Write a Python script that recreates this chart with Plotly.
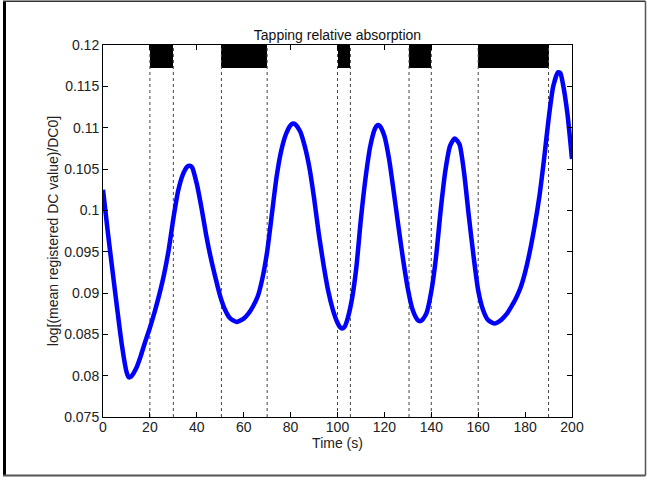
import plotly.graph_objects as go

# ---- data ----
time_s = [0, 2, 4, 6, 8, 10, 11, 12, 14, 16, 18, 20, 22, 24, 26, 28, 30, 32, 34, 36, 37, 38,
          40, 42, 44, 46, 48, 50, 52, 54, 56, 57, 58, 60, 62, 64, 66, 68, 70, 72, 74, 76, 78,
          80, 81, 82, 84, 86, 88, 90, 92, 94, 96, 98, 100, 101, 102, 103, 104, 106, 108, 110,
          112, 114, 116, 117, 118, 120, 122, 124, 126, 128, 130, 132, 134, 135, 136, 138, 140,
          142, 144, 146, 148, 150, 152, 154, 156, 158, 160, 162, 164, 166, 167, 168, 170, 172,
          174, 176, 178, 180, 182, 184, 186, 188, 190, 192, 194, 195, 196, 198, 200]
absorption = [0.1025, 0.0975, 0.0928, 0.0882, 0.0838, 0.0805, 0.0798, 0.0799, 0.0808, 0.0823,
              0.0841, 0.0858, 0.0877, 0.0898, 0.0922, 0.0952, 0.0990, 0.1023, 0.1043, 0.1053,
              0.1054, 0.1052, 0.1032, 0.1003, 0.0970, 0.0942, 0.0918, 0.0896, 0.0880, 0.0870,
              0.0866, 0.0865, 0.0866, 0.0869, 0.0875, 0.0884, 0.0896, 0.0918, 0.0950, 0.0995,
              0.1040, 0.1072, 0.1092, 0.1103, 0.1105, 0.1104, 0.1096, 0.1078, 0.1052, 0.1015,
              0.0972, 0.0935, 0.0903, 0.0880, 0.0864, 0.0859, 0.0857, 0.0859, 0.0866, 0.0890,
              0.0930, 0.0990, 0.1040, 0.1078, 0.1099, 0.1103, 0.1102, 0.1090, 0.1062, 0.1022,
              0.0980, 0.0940, 0.0905, 0.0880, 0.0868, 0.0866, 0.0867, 0.0876, 0.0902, 0.0943,
              0.1000, 0.1048, 0.1078, 0.1087, 0.1080, 0.1045, 0.0993, 0.0945, 0.0903, 0.0880,
              0.0868, 0.0864, 0.0863, 0.0864, 0.0868, 0.0874, 0.0883, 0.0893, 0.0906, 0.0925,
              0.0950, 0.0980, 0.1015, 0.1060, 0.1110, 0.1150, 0.1167, 0.1166, 0.1155, 0.1118,
              0.1062]

tap_start = [20, 50.5, 100, 130.5, 160]
tap_end = [30, 70, 105.5, 140, 190]
bar_low = 0.1172
bar_high = 0.12

x_ticks = [0, 20, 40, 60, 80, 100, 120, 140, 160, 180, 200]
y_ticks = [0.075, 0.08, 0.085, 0.09, 0.095, 0.1, 0.105, 0.11, 0.115, 0.12]
y_tick_text = ["0.075", "0.08", "0.085", "0.09", "0.095", "0.1", "0.105", "0.11", "0.115", "0.12"]

FONT = "Liberation Sans, Arial, Helvetica, sans-serif"

L, R, T, B = 103, 75, 45, 60
W, H = 647, 477
PW, PH = W - L - R, H - T - B


def px(xpix):
    return (xpix - L) / PW


def py(ypix):
    return (H - B - ypix) / PH


fig = go.Figure()

# dotted boundaries of tapping intervals
vx, vy = [], []
for b in tap_start + tap_end:
    vx += [b, b, None]
    vy += [y_ticks[0], y_ticks[-1], None]
fig.add_trace(go.Scatter(x=vx, y=vy, mode="lines",
                         line=dict(color="#444", width=1, dash="dot"),
                         hoverinfo="skip", showlegend=False))

# black tapping bars at the top
fig.add_trace(go.Bar(
    x=[(s + e) / 2 for s, e in zip(tap_start, tap_end)],
    width=[e - s for s, e in zip(tap_start, tap_end)],
    y=[bar_high - bar_low] * len(tap_start),
    base=[bar_low] * len(tap_start),
    marker=dict(color="black", line=dict(width=0)),
    showlegend=False, hoverinfo="skip"))

# the absorption curve
fig.add_trace(go.Scatter(x=time_s, y=absorption, mode="lines",
                         line=dict(color="#0000ff", width=4.5, shape="spline", smoothing=0.6),
                         showlegend=False))

axis_common = dict(showgrid=False, zeroline=False, ticks="inside", ticklen=5,
                   tickcolor="black", showline=True, linecolor="black", linewidth=1,
                   mirror="allticks", tickfont=dict(family=FONT, size=14, color="#222"))

fig.update_layout(
    width=W, height=H,
    margin=dict(l=L, r=R, t=T, b=B),
    paper_bgcolor="white", plot_bgcolor="white",
    font=dict(family=FONT, size=14, color="#222"),
    title=dict(text="Tapping relative absorption", x=0.5, xref="paper", xanchor="center",
               y=1, yref="paper", yanchor="bottom", pad=dict(b=5),
               font=dict(family=FONT, size=14, color="#111")),
    xaxis=dict(range=[0, 200], tickvals=x_ticks, ticklabelstandoff=-3,
               title=dict(text="Time (s)", standoff=0, font=dict(family=FONT, size=14, color="#222")),
               **axis_common),
    yaxis=dict(range=[0.075, 0.12], tickvals=y_ticks, ticktext=y_tick_text,
               title=dict(text="log[(mean registered DC value)/DC0]", standoff=2,
                          font=dict(family=FONT, size=14, color="#222")),
               **axis_common),
    bargap=0,
    shapes=[
        dict(type="line", xref="paper", yref="paper", x0=px(4.5), x1=px(4.5),
             y0=py(476), y1=py(1), line=dict(color="black", width=3)),
        dict(type="line", xref="paper", yref="paper", x0=px(3), x1=px(645.5),
             y0=py(1.2), y1=py(1.2), line=dict(color="#333", width=1.5)),
        dict(type="line", xref="paper", yref="paper", x0=px(3), x1=px(645.5),
             y0=py(475.5), y1=py(475.5), line=dict(color="#555", width=2)),
        dict(type="line", xref="paper", yref="paper", x0=px(645.5), x1=px(645.5),
             y0=py(475.5), y1=py(1.2), line=dict(color="#555", width=1.5)),
    ],
)

fig.write_html("out.html", config={"displayModeBar": False},
               post_script="document.body.style.margin='0';")
